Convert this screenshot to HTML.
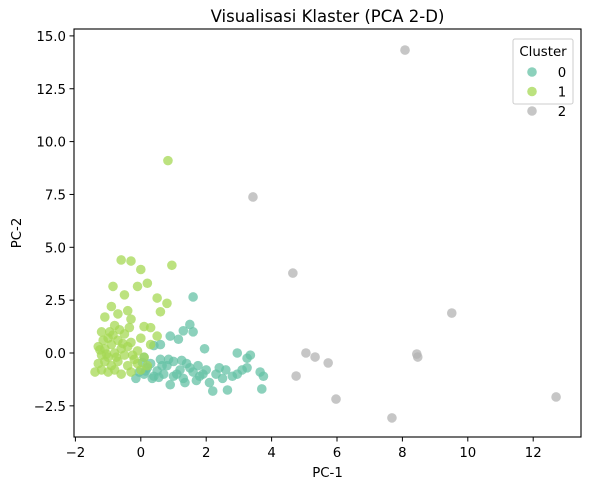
<!DOCTYPE html>
<html><head><meta charset="utf-8"><style>
body{margin:0;background:#fff;font-family:"DejaVu Sans","Liberation Sans",sans-serif;}
svg text{font-family:"DejaVu Sans","Liberation Sans",sans-serif;fill:#000;}
</style></head><body>
<svg id="chart" width="590" height="490" xmlns="http://www.w3.org/2000/svg">
<rect width="590" height="490" fill="#fff"/>
<g id="marks"></g>
<g id="axes"></g>
</svg>
<script>
const xTicks=[-2,0,2,4,6,8,10,12];
const yTicks=[-2.5,0,2.5,5,7.5,10,12.5,15];
const yTickLabels=["−2.5","0.0","2.5","5.0","7.5","10.0","12.5","15.0"];
const xTickLabels=["−2","0","2","4","6","8","10","12"];
const clusterNames=["0","1","2"];
const cluster0X=[1.6,1.5,1.3,1.6,0.9,1.15,1.95,2.95,3.35,3.25,3.25,3.65,3.75,3.7,2.65,2.2,2.95,2.6,0.4,0.6,0.1,0.3,0.6,0.8,1.0,1.2,1.4,1.6,1.8,2.0,2.3,2.5,2.1,1.7,1.3,1.0,0.7,0.4,0.1,-0.15,-0.05,0.2,0.5,0.9,1.1,1.5,1.9,2.4,3.1,0.35,0.65,0.85,1.25,0.05,1.75,2.8,0.55,1.35,0.15];
const cluster0Y=[2.65,1.35,1.05,1.0,0.8,0.65,0.2,0.0,-0.1,-0.25,-0.7,-0.9,-1.1,-1.7,-1.75,-1.8,-1.0,-0.8,0.35,0.4,-0.2,-0.5,-0.3,-0.6,-0.4,-0.8,-0.5,-0.9,-1.1,-0.8,-1.0,-1.2,-1.4,-1.3,-1.2,-1.1,-1.0,-1.1,-1.0,-1.2,-0.9,-0.7,-0.85,-1.5,-1.0,-0.7,-1.0,-0.7,-0.8,-1.2,-0.6,-0.3,-0.35,-0.45,-0.6,-1.1,-1.15,-1.4,-0.85];
const cluster1X=[-0.6,-0.3,0.0,0.95,-0.85,-0.1,0.2,-0.5,0.5,0.83,0.8,0.6,-0.9,-0.4,-1.1,-0.7,-0.3,-0.8,0.1,0.3,-1.2,-0.5,0.5,-1.0,-0.7,-0.3,0.0,-1.3,-1.1,-0.9,-0.6,-0.4,-0.1,0.3,-1.2,-1.0,-0.8,-0.5,-0.2,0.1,-1.3,-1.1,-0.9,-0.7,-0.4,-0.1,-1.4,-1.2,-1.0,-0.8,-0.6,-0.3,0.0,-1.15,-0.95,-0.65,-0.35,-1.05,-0.75,-0.55,-0.25,0.2,-1.25,-0.85];
const cluster1Y=[4.4,4.35,3.95,4.15,3.15,3.15,3.3,2.75,2.6,9.1,2.35,1.95,2.2,2.0,1.7,1.85,1.6,1.3,1.25,1.2,1.0,0.9,0.8,0.7,0.6,0.5,0.7,0.3,0.2,0.4,0.2,0.3,0.1,0.4,-0.1,-0.2,0.0,-0.1,-0.3,-0.2,-0.5,-0.4,-0.6,-0.4,-0.6,-0.5,-0.9,-0.8,-0.9,-0.8,-1.0,-0.9,-0.8,0.6,1.0,1.1,1.2,-0.05,-0.2,0.45,-0.1,-0.6,0.15,0.85];
const cluster2X=[8.08,3.43,4.65,9.51,5.05,5.33,5.73,4.75,5.97,8.44,8.47,7.68,12.7];
const cluster2Y=[14.33,7.38,3.78,1.89,0,-0.19,-0.47,-1.09,-2.18,-0.05,-0.19,-3.07,-2.08];
const colors=["#66c2a5","#a6d854","#b3b3b3"];

const L=74,R=581,T=29,B=437;
const xS=v=>140.8+v*32.7;
const yS=v=>353-v*21.14;
const NS="http://www.w3.org/2000/svg";
function mk(tag,attrs,parent){const e=document.createElementNS(NS,tag);for(const k in attrs)e.setAttribute(k,attrs[k]);parent.appendChild(e);return e;}
const marks=document.getElementById('marks'),axes=document.getElementById('axes');
const series=[[cluster0X,cluster0Y],[cluster1X,cluster1Y],[cluster2X,cluster2Y]];
series.forEach((s,ci)=>{
  s[0].forEach((xv,i)=>{
    const c=mk('circle',{cx:xS(xv),cy:yS(s[1][i]),r:4.8,fill:colors[ci],'fill-opacity':0.75},marks);
    
    
  });
});
const frame=mk('rect',{x:L,y:T,width:R-L,height:B-T,fill:'none',stroke:'#000','stroke-width':1.1},axes);


xTicks.forEach((t,i)=>{
  const x=xS(t);
  mk('line',{x1:x,x2:x,y1:B,y2:B+4.5,stroke:'#000'},axes);
  const tx=mk('text',{x:x,y:B+20,'font-size':13.3,'text-anchor':'middle'},axes);
  tx.textContent=xTickLabels[i];
  
  
});
yTicks.forEach((t,i)=>{
  const y=yS(t);
  mk('line',{x1:L-4.5,x2:L,y1:y,y2:y,stroke:'#000'},axes);
  const tx=mk('text',{x:L-8,y:y+5,'font-size':13.3,'text-anchor':'end'},axes);
  tx.textContent=yTickLabels[i];
  
  
});
const title=mk('text',{x:(L+R)/2,y:22,'font-size':16.5,'text-anchor':'middle'},axes);
title.textContent='Visualisasi Klaster (PCA 2-D)';


const xl=mk('text',{x:(L+R)/2,y:477,'font-size':13.3,'text-anchor':'middle'},axes);
xl.textContent='PC-1';


const yl=mk('text',{x:0,y:0,'font-size':13.3,'text-anchor':'middle',transform:'translate(21,'+((T+B)/2)+') rotate(-90)'},axes);
yl.textContent='PC-2';


const lg=mk('g',{},axes);


mk('rect',{x:513,y:39,width:60,height:65,rx:2,fill:'#fff','fill-opacity':0.8,stroke:'#ccc'},lg);
const lt=mk('text',{x:543,y:56,'font-size':13.3,'text-anchor':'middle'},lg);
lt.textContent='Cluster';
clusterNames.forEach((n,i)=>{
  const y=72+i*19.5;
  const m=mk('circle',{cx:532,cy:y,r:4.8,fill:colors[i],'fill-opacity':0.75},lg);
  
  
  const t=mk('text',{x:562,y:y+5,'font-size':13.3,'text-anchor':'middle'},lg);
  t.textContent=n;
  
  
});
</script>
</body></html>
